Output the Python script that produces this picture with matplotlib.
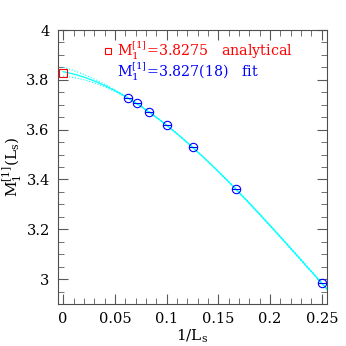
import numpy as np
import matplotlib
matplotlib.use("Agg")
import matplotlib.pyplot as plt
from matplotlib.ticker import MultipleLocator

# data
inv_L = [1 / 16, 1 / 14, 1 / 12, 1 / 10, 1 / 8, 1 / 6, 1 / 4]
m_vals = [3.726, 3.706, 3.669, 3.617, 3.530, 3.362, 2.983]
analytical = 3.8275
fit_err = 0.018
legend_texts = [r"M$_1^{[1]}$=3.8275   analytical", r"M$_1^{[1]}$=3.827(18)   fit"]

plt.rcParams['font.family'] = ['DejaVu Serif']
plt.rcParams['mathtext.fontset'] = 'dejavuserif'

fig = plt.figure(figsize=(3.46, 3.46), dpi=100)
ax = fig.add_axes([58 / 346, 1 - 304 / 346, 269 / 346, 274 / 346])

# cubic fit through the points, band from covariance scaled to the quoted error
x = np.array(inv_L)
y = np.array(m_vals)
coef, cov = np.polyfit(x, y, 3, cov=True)
xs = np.linspace(0, 0.256, 200)
X = np.vstack([xs ** 3, xs ** 2, xs, np.ones_like(xs)]).T
fit = X @ coef
sig = np.sqrt(np.einsum('ij,jk,ik->i', X, cov, X))
sig = sig * fit_err / sig[0]

ax.plot(xs, fit, color='cyan', lw=0.9)
ax.plot(xs, fit + sig, color='cyan', lw=0.8, ls=':')
ax.plot(xs, fit - sig, color='cyan', lw=0.8, ls=':')

ax.plot(x, y, 'o', mfc='none', mec='blue', ms=6, mew=0.8)
ax.plot(x, y, '_', color='blue', ms=6, mew=0.8)
ax.plot([0], [analytical], 's', mfc='none', mec='red', ms=5.5, mew=0.8)

ax.plot([0.043], [3.916], 's', mfc='none', mec='red', ms=4.5, mew=0.8)
ax.text(0.052, 3.916, legend_texts[0], color='red', fontsize=10.3, va='center')
ax.text(0.052, 3.834, legend_texts[1], color='blue', fontsize=10.3, va='center')

ax.set_xlim(-0.005, 0.255)
ax.set_ylim(2.9, 4.0)
ax.xaxis.set_major_locator(MultipleLocator(0.05))
ax.xaxis.set_minor_locator(MultipleLocator(0.01))
ax.yaxis.set_major_locator(MultipleLocator(0.2))
ax.yaxis.set_minor_locator(MultipleLocator(0.05))
ax.xaxis.set_major_formatter(plt.FuncFormatter(lambda v, p: '%g' % round(v, 3)))
ax.yaxis.set_major_formatter(plt.FuncFormatter(lambda v, p: '%g' % round(v, 3)))
ax.tick_params(which='both', direction='in', top=True, right=True, labelsize=10.5, color='0.35')
ax.tick_params(which='major', length=7, width=0.8, pad=6)
ax.tick_params(which='minor', length=4, width=0.6)
for s in ax.spines.values():
    s.set_linewidth(0.8)
    s.set_color('0.3')

ax.set_xlabel(r"1/L$_\mathrm{s}$", fontsize=11, labelpad=1)
ax.set_ylabel(r"M$_1^{[1]}$(L$_\mathrm{s}$)", fontsize=11, labelpad=2)

fig.savefig("out.png", dpi=100)
